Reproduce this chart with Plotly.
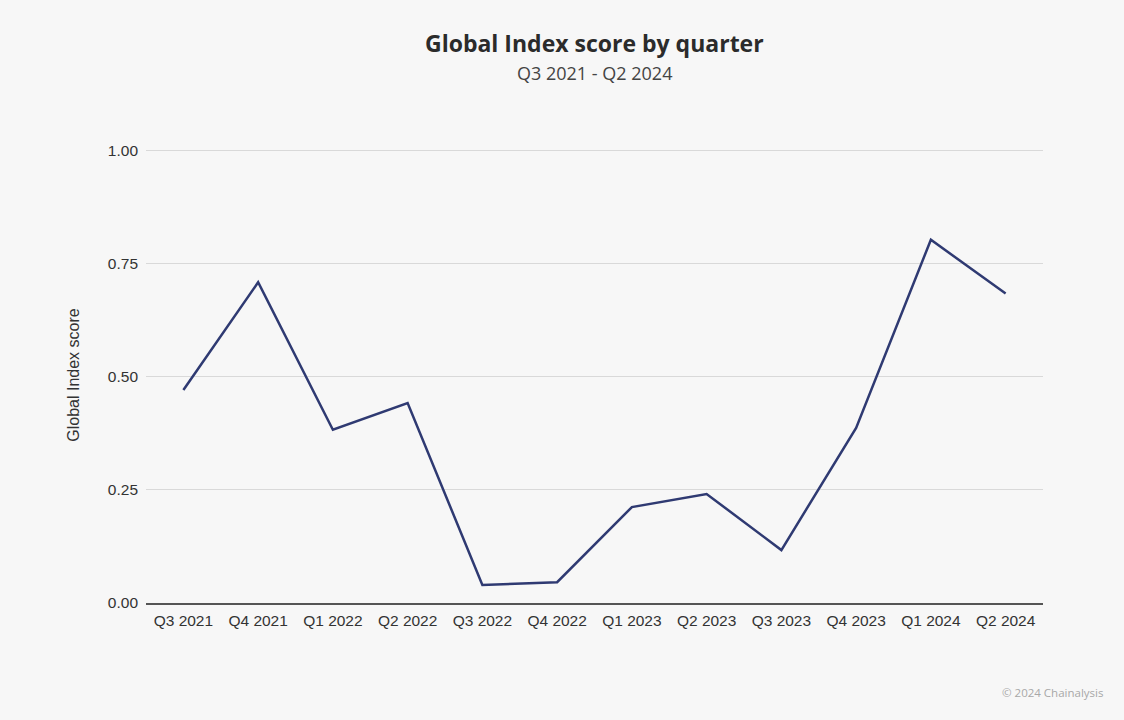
import plotly.graph_objects as go

quarters = ["Q3 2021", "Q4 2021", "Q1 2022", "Q2 2022", "Q3 2022", "Q4 2022",
            "Q1 2023", "Q2 2023", "Q3 2023", "Q4 2023", "Q1 2024", "Q2 2024"]
scores = [0.471, 0.709, 0.383, 0.442, 0.040, 0.046,
          0.212, 0.241, 0.117, 0.387, 0.803, 0.684]
y_ticks = [0, 0.25, 0.5, 0.75, 1.0]
y_tick_labels = ["0.00", "0.25", "0.50", "0.75", "1.00"]

fig = go.Figure()
fig.add_trace(go.Scatter(x=quarters, y=scores, mode="lines",
                         line=dict(color="#2f3a72", width=2.5),
                         hoverinfo="x+y"))

fig.update_layout(
    width=1124, height=720,
    paper_bgcolor="#f7f7f7", plot_bgcolor="#f7f7f7",
    margin=dict(l=146, r=81, t=147, b=117),
    showlegend=False,
    font=dict(family="Liberation Sans, Arial", size=15.5, color="#333333"),
)

# title, subtitle and credit
fig.add_annotation(text="<b>Global Index score by quarter</b>", xref="paper", yref="paper",
                   x=0.5, y=1, yshift=104, xanchor="center", yanchor="middle", showarrow=False,
                   font=dict(family="Open Sans, sans-serif", size=23, color="#2b2b2b"))
fig.add_annotation(text="Q3 2021 - Q2 2024", xref="paper", yref="paper",
                   x=0.5, y=1, yshift=74, xanchor="center", yanchor="middle", showarrow=False,
                   font=dict(family="Open Sans, sans-serif", size=18, color="#444444"))
fig.add_annotation(text="© 2024 Chainalysis", xref="paper", yref="paper",
                   x=1, y=0, xshift=62, yshift=-89, xanchor="right", yanchor="middle", showarrow=False,
                   font=dict(family="Open Sans, sans-serif", size=11.5, color="#a8a8a8"))

fig.update_xaxes(type="category", range=[-0.5, 11.5], showgrid=False,
                 ticks="", ticklabelstandoff=3, tickfont=dict(size=15.5, color="#333333"),
                 showline=True, linecolor="#555555", linewidth=1.5)
fig.update_yaxes(range=[0, 1.008], tickvals=y_ticks, ticktext=y_tick_labels,
                 showgrid=True, gridcolor="#d9d9d9", gridwidth=1.2,
                 zeroline=False, ticks="", ticklabelstandoff=7,
                 title=dict(text="Global Index score", font=dict(size=16, color="#333333"), standoff=24),
                 tickfont=dict(size=15.5, color="#333333"))

fig.write_html("out.html", config={"displayModeBar": False},
               post_script="document.body.style.margin='0';")
